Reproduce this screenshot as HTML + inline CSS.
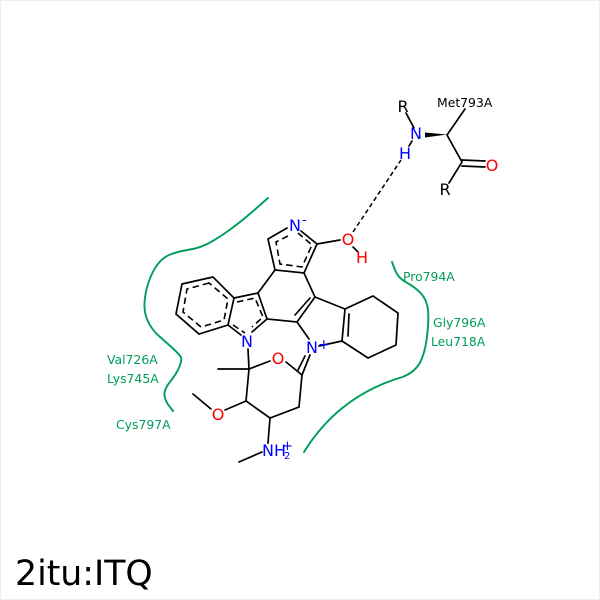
<!DOCTYPE html>
<html><head><meta charset="utf-8"><style>
html,body{margin:0;padding:0;background:#fff}
svg{display:block}
text{font-family:"DejaVu Sans",sans-serif}
.b{stroke:#000;stroke-width:1.7;fill:none;stroke-linecap:round}
.d{stroke:#000;stroke-width:1.6;fill:none;stroke-dasharray:6.5 4}
.g{stroke:#009e5a;stroke-width:1.9;fill:none;stroke-linecap:round}
.l{fill:#009e5a;font-size:12.4px}
.a{font-size:16px;text-anchor:middle}
</style></head><body>
<svg width="600" height="600" viewBox="0 0 600 600" xmlns="http://www.w3.org/2000/svg">
<rect x="0.5" y="0.5" width="599" height="599" fill="#fff" stroke="#eeeeee"/>
<path class="g" d="M268 198L255.500 209Q243 220 231.500 228.500Q220 237 210 242.500Q200 248 190 249.500Q180 251 171.500 254Q163 257 157.500 264.500Q152 272 148.500 282.500Q145 293 144.500 303Q144 313 148 321.500Q152 330 159.500 336.500Q167 343 173.500 349Q180 355 181 357.500Q182 360 179.500 366.500Q177 373 171 380.500Q165 388 164.500 393Q164 398 168 404.500L173 411"/>
<path class="g" d="M392 262L395 270Q398 278 406.500 282.500Q415 287 421 293.500Q427 300 428 310Q429 320 427 336.500Q425 353 420 362.500Q415 372 402.500 377C365 388 330 410 304 452"/>
<path class="b" d="M287 228L268 239L275 270L304 273L317 244L301 231"/>
<path class="d" d="M288 236L276 242L280 264L302 267L312 245L298 233"/>
<path class="b" d="M275 270L258 293L267 319L297 322L315 297L304 273"/>
<path class="b" d="M213 277L182 284L176 314L199 334L228 325L234 298L213 277Z"/>
<path class="d" d="M209 283L187 289L183 312L201 327L224 320L228 299Z"/>
<path class="b" d="M234 298L258 293M228 325L241 335M252 332L267 319"/>
<path class="d" d="M237 302L255 298L263 317L252 327M233 325L245 333"/>
<path class="b" d="M295 315L310 298M297 322L309 339"/>
<path class="b" d="M319 346L342 341L345 309L315 297"/>
<path class="b" d="M345 309L373 296L398 313L396 345L368 358L342 341M349 314L348 336"/>
<path class="b" d="M248 349L249 369L270 361M286 362L302 375M249 369L218 369M249 369L246 401L270 418L299 407L302 375M310 355L302 375M305 356L298 370M246 401L225 410M211 409L193 394M270 418L268 443M262 452L239 462"/>
<path class="b" d="M317 244L340 240M353 247L358 252"/>
<path d="M353 232L401 160" stroke="#000" stroke-width="1.5" stroke-dasharray="4.500 3" fill="none"/>
<path class="b" d="M406 113L414 128M412 141L409 146M447 135L465 109M447 135L462 162L449 183M462 160L485 161M462 166L485 167"/>
<path d="M425 132.500L447 134.500L425 137.500Z" fill="#000"/>
<text class="a" x="295" y="231" fill="#0000ff">N</text><text x="302" y="224" font-size="13" fill="#0000ff">-</text>
<text class="a" x="247" y="347" fill="#0000ff">N</text>
<text class="a" x="312" y="353" fill="#0000ff">N</text><text x="318" y="349" font-size="14" fill="#0000ff">+</text>
<text class="a" x="278" y="364" fill="#ff0000">O</text>
<text class="a" x="218" y="420" fill="#ff0000">O</text>
<text class="a" x="348" y="245" fill="#ff0000">O</text>
<text class="a" x="362" y="263" fill="#ff0000">H</text>
<text x="262" y="456" font-size="16" fill="#0000ff">NH</text><text x="284" y="459" font-size="10" fill="#0000ff">2</text><text x="282" y="450" font-size="13" fill="#0000ff">+</text>
<text class="a" x="403" y="112" fill="#000">R</text>
<text class="a" x="416" y="139" fill="#0000ff">N</text>
<text class="a" x="405" y="159" fill="#0000ff">H</text>
<text class="a" x="492" y="171" fill="#ff0000">O</text>
<text class="a" x="445" y="195" fill="#000">R</text>
<text x="437" y="107" font-size="12.4" fill="#000">Met793A</text>
<text class="l" x="403" y="281">Pro794A</text>
<text class="l" x="433" y="327">Gly796A</text>
<text class="l" x="431" y="346">Leu718A</text>
<text class="l" x="107" y="364">Val726A</text>
<text class="l" x="107" y="383">Lys745A</text>
<text class="l" x="116" y="429">Cys797A</text>
<text x="15" y="585" font-size="34.700" fill="#000">2itu:ITQ</text>
</svg>
</body></html>
